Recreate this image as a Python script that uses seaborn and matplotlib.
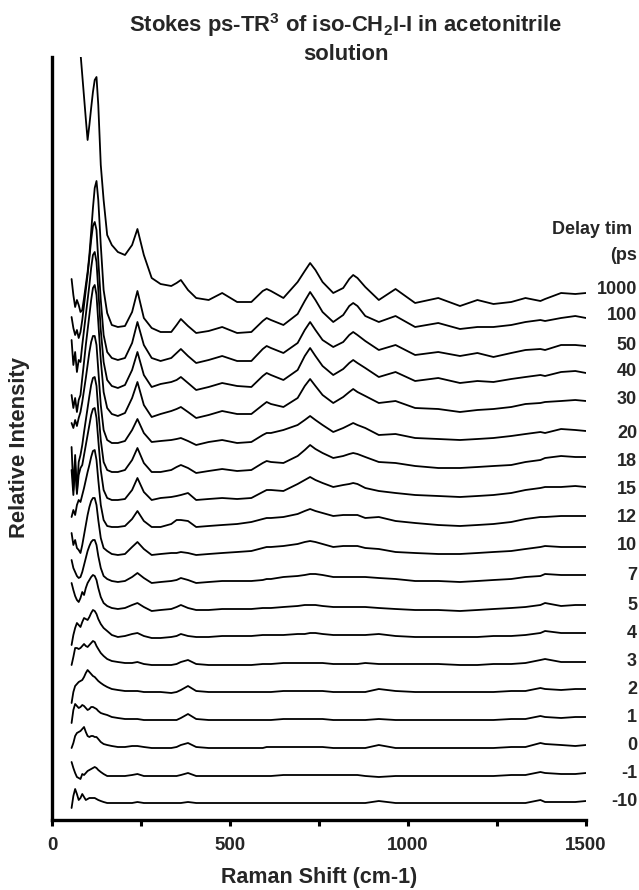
import matplotlib
matplotlib.use('Agg')
import matplotlib.pyplot as plt
import pandas as pd
import seaborn as sns

# Raman shift grid (cm-1) shared by every spectrum
raman_shift = [55, 60, 65, 70, 75, 80, 85, 90, 95, 100, 105, 110, 115, 120, 125, 130,
               137, 145, 155, 168, 185, 205, 225,
               240, 258, 280, 305, 335, 350, 362, 382, 405, 440, 478,
               520, 560, 592, 603, 615, 650, 690, 710, 725, 740, 760, 790, 818, 835, 846, 858,
               880, 918, 965, 1020, 1085, 1146, 1195, 1240, 1290, 1330,
               1372, 1385, 1430, 1470, 1500]

# delay times (ps) and the vertical offset of each stacked trace
delay_labels = ['1000', '100', '50', '40', '30', '20', '18', '15', '12', '10',
                '7', '5', '4', '3', '2', '1', '0', '-1', '-10']
baseline_offsets = [530, 504, 475, 448, 420, 386, 358, 331, 303, 274,
                    244, 214, 186, 158, 130, 102, 74, 46, 18]

# relative intensities, one list per delay
i_1000 = [350, 328, 306, 282, 260, 237, 215, 193, 171, 150, 165, 182, 198, 210, 213, 185,
          125, 90, 55, 45, 38, 35, 45,
          61, 35, 12, 6, 4, 7, 10, 0, -8, -10, -3,
          -12, -12, -1, 1, -1, -8, 8, 19, 27, 20, 8, -3, 2, 11, 15, 12,
          3, -10, 1, -13, -8, -16, -10, -14, -12, -8,
          -11, -9, -3, -4, -3]
i_100 = [37, 21, 9, 16, 11, 4, 6, 18, 31, 44, 61, 84, 108, 128, 135, 116,
         71, 26, 3, -9, -11, -10, 4,
         25, -2, -12, -16, -16, -9, -3, -10, -17, -15, -11,
         -17, -16, -5, -2, -4, -9, 2, 15, 24, 16, 4, -6, 1, 10, 13, 10,
         0, -6, 0, -11, -7, -13, -11, -11, -9, -6,
         -4, -5, -2, 0, -2]
i_50 = [28, 17, 10, 15, 7, 13, 25, 40, 55, 70, 87, 105, 119, 123, 115, 85,
        45, 10, -7, -13, -15, -13, 2,
        23, 0, -13, -16, -13, -8, -4, -11, -18, -15, -11,
        -16, -16, -4, -1, -3, -8, 2, 15, 23, 15, 5, -2, 3, 10, 13, 10,
        4, -5, 0, -10, -7, -11, -8, -12, -8, -5,
        -4, -5, 0, 0, -1]
i_40 = [32, 7, 20, 0, 12, 10, 27, 42, 57, 72, 87, 104, 117, 120, 110, 82,
        42, 10, -8, -14, -16, -13, 2,
        20, -3, -15, -12, -10, -8, -5, -11, -18, -15, -11,
        -14, -15, -4, -1, -3, -8, 2, 16, 24, 16, 6, -3, 3, 9, 12, 9,
        4, -5, 0, -9, -6, -11, -9, -10, -7, -5,
        -3, -4, 0, 1, -1]
i_30 = [5, -8, 2, -12, 0, 5, 22, 38, 55, 70, 85, 100, 112, 115, 105, 78,
        40, 8, -8, -14, -16, -13, 2,
        18, -5, -17, -14, -11, -9, -7, -12, -18, -15, -11,
        -14, -14, -5, -2, -4, -7, 2, 14, 21, 14, 5, -3, 3, 8, 11, 8,
        4, -3, -1, -8, -9, -12, -10, -9, -7, -4,
        -3, -2, -1, 0, -1]
i_20 = [11, 6, 14, 8, 16, 22, 32, 44, 56, 69, 82, 92, 98, 98, 89, 64,
        29, 4, -6, -9, -9, -7, 4,
        15, 1, -8, -7, -6, -5, -4, -7, -11, -8, -6,
        -9, -8, -1, 1, 1, 4, 9, 14, 18, 14, 9, 2, 6, 9, 11, 9,
        6, -1, 0, -4, -5, -6, -5, -4, -2, 0,
        2, 1, 5, 4, 3]
i_18 = [15, -28, 7, -30, 0, 7, 17, 30, 42, 54, 66, 77, 84, 85, 76, 52,
        22, 0, -8, -10, -10, -8, 2,
        14, -1, -10, -10, -8, -5, -3, -6, -11, -9, -7,
        -9, -8, -1, 1, 0, -1, 6, 12, 17, 13, 9, 4, 6, 8, 9, 8,
        5, 0, -1, -4, -6, -6, -5, -4, -3, 0,
        2, 4, 6, 5, 5]
i_15 = [19, -6, 24, -5, 14, 21, 24, 34, 44, 54, 64, 74, 80, 81, 71, 49,
        19, -1, -9, -11, -11, -10, -1,
        11, -3, -11, -9, -8, -7, -6, -4, -11, -10, -9,
        -10, -9, -3, -1, -1, -2, 5, 9, 12, 9, 6, 2, 4, 5, 6, 5,
        1, -2, -4, -6, -7, -8, -7, -6, -4, -1,
        1, 2, 2, 3, 2]
i_12 = [0, 7, 2, 12, 17, 15, 22, 29, 37, 45, 52, 60, 66, 67, 57, 37,
        12, -3, -9, -10, -10, -9, -2,
        6, -4, -10, -10, -7, -3, -3, -4, -10, -9, -8,
        -7, -5, -2, -1, -1, 0, 3, 6, 8, 6, 4, 1, 2, 2, 2, 2,
        -1, 0, -4, -6, -8, -9, -8, -7, -5, -2,
        0, 0, 1, 1, 1]
i_10 = [13, 1, 6, -2, -4, -7, 1, 11, 21, 31, 39, 45, 48, 48, 41, 26,
        8, -2, -5, -8, -9, -8, -1,
        4, -3, -9, -8, -7, -7, -6, -7, -9, -8, -7,
        -6, -5, -2, -1, -1, 0, 2, 4, 5, 4, 2, -1, 0, 0, 0, 0,
        -2, -3, -6, -7, -8, -8, -7, -6, -5, -3,
        -1, 0, -1, -1, -1]
i_7 = [16, 8, 4, 0, -2, -1, 4, 11, 18, 25, 30, 34, 36, 36, 31, 20,
       8, 0, -3, -5, -6, -5, -1,
       3, -2, -7, -6, -5, -4, -2, -4, -7, -6, -5,
       -5, -5, -4, -3, -3, -1, 0, 1, 2, 2, 1, -1, -1, -1, -1, -1,
       -1, -2, -3, -5, -5, -6, -5, -4, -3, -1,
       0, 2, 1, 1, 1]
i_5 = [23, 16, 10, 6, 4, 8, 14, 11, 18, 23, 26, 29, 31, 30, 26, 18,
       9, 3, 0, -2, -3, -2, 1,
       3, -1, -5, -4, -3, -1, 1, -2, -4, -4, -3,
       -3, -3, -2, -2, -2, -1, 0, 1, 1, 1, 0, -1, -1, -1, -1, -1,
       -1, -2, -3, -4, -4, -5, -4, -3, -2, -1,
       1, 3, 0, 1, 1]
i_4 = [-11, -1, 6, 11, 9, 7, 12, 16, 15, 14, 17, 21, 24, 23, 20, 15,
       10, 6, 3, -1, -3, -2, 0,
       1, -2, -4, -4, -3, -2, 0, -2, -3, -3, -2,
       -2, -2, -1, -1, -1, -1, 0, 0, 1, 1, 0, -1, -1, -1, -1, -1,
       -1, 0, -2, -3, -3, -3, -3, -2, -2, -1,
       1, 3, 1, 1, 1]
i_3 = [-3, 5, 14, 14, 13, 14, 16, 18, 16, 15, 17, 19, 21, 20, 16, 13,
       9, 6, 3, 1, 0, -1, -1,
       0, -2, -3, -3, -3, -2, 0, 2, -2, -3, -3,
       -3, -3, -2, -2, -2, -1, -1, -1, -1, -1, -1, -2, -2, -2, -2, -2,
       -1, -2, -2, -2, -2, -3, -3, -2, -2, -1,
       2, 3, 0, 0, 0]
i_2 = [-13, -2, 4, 6, 8, 9, 10, 13, 17, 20, 18, 16, 14, 13, 11, 9,
       7, 5, 3, 1, 0, -1, -1,
       -1, -2, -2, -2, -3, -2, 0, 4, -1, -2, -2,
       -2, -2, -2, -2, -2, -1, -1, -1, -1, -1, -1, -2, -2, -2, -2, -2,
       -2, 1, -1, -2, -2, -2, -2, -2, -1, -1,
       2, 1, 0, 1, 1]
i_1 = [-5, 8, 14, 12, 10, 11, 13, 12, 10, 8, 9, 11, 11, 10, 9, 7,
       5, 4, 3, 1, 0, -1, -1,
       -1, -2, -2, -2, -2, -2, 0, 4, -1, -2, -2,
       -2, -2, -2, -2, -2, -1, -1, -1, -1, -1, -1, -2, -2, -2, -2, -2,
       -2, -1, -2, -2, -2, -2, -2, -2, -1, -1,
       2, 1, 0, 1, 1]
i_0 = [-2, 3, 10, 13, 14, 15, 17, 19, 14, 10, 9, 10, 10, 9, 9, 7,
       4, 2, 1, 0, -1, -1, 0,
       0, -1, -2, -2, -2, -1, 1, 3, -1, -2, -2,
       -2, -2, -2, -1, -1, -1, -1, -1, -1, -1, -1, -2, -2, -2, -2, -2,
       -2, 1, -2, -2, -2, -2, -2, -2, -1, -1,
       3, 2, 1, 0, 1]
i_m1 = [12, 6, 1, -3, -4, -5, 0, -1, 1, 3, 4, 5, 6, 7, 6, 4,
        2, 0, -2, -2, -2, -2, -1,
        0, -2, -2, -2, -2, -2, -1, 1, -2, -2, -2,
        -2, -2, -2, -2, -2, -1, -1, -1, -1, -1, -1, -1, -1, -1, -1, -1,
        -2, -3, -2, -2, -2, -2, -2, -2, -1, -1,
        2, 1, 0, 0, 1]
i_m10 = [-6, 6, 13, 8, 2, 4, 8, 5, 2, 3, 4, 4, 4, 4, 3, 2,
         1, 0, -1, -1, -1, -1, -1,
         0, -1, -1, -1, -1, -1, -1, 0, -1, -1, -1,
         -1, -1, -1, -1, -1, -1, -1, -1, -1, -1, -1, -1, -1, -1, -1, -1,
         -1, 1, -1, -1, -1, -1, -1, -1, -1, -1,
         2, 0, 0, 0, 1]

spectra = [i_1000, i_100, i_50, i_40, i_30, i_20, i_18, i_15, i_12, i_10,
           i_7, i_5, i_4, i_3, i_2, i_1, i_0, i_m1, i_m10]

# long table: one row per point, traces stacked by their offset
rows = []
for label, offset, values in zip(delay_labels, baseline_offsets, spectra):
    assert len(values) == len(raman_shift), label
    for x, v in zip(raman_shift, values):
        rows.append({'shift': x, 'signal': offset + v, 'delay': label})
df = pd.DataFrame(rows)

sns.set_style('white')
plt.rcParams['font.family'] = ['Liberation Sans', 'DejaVu Sans']
plt.rcParams['font.weight'] = 'bold'
plt.rcParams['mathtext.fontset'] = 'custom'
plt.rcParams['mathtext.rm'] = 'Liberation Sans:bold'
plt.rcParams['mathtext.bf'] = 'Liberation Sans:bold'
plt.rcParams['mathtext.default'] = 'bf'

W, H = 639, 890
fig = plt.figure(figsize=(W / 100, H / 100), dpi=100)
ax = fig.add_axes([52 / W, 70 / H, 534 / W, 763 / H])

sns.lineplot(data=df, x='shift', y='signal', units='delay', estimator=None,
             color='black', lw=1.3, sort=False, legend=False, ax=ax)

ax.set_xlim(0, 1500)
ax.set_ylim(0, 763)

for side in ['top', 'right']:
    ax.spines[side].set_visible(False)
for side in ['left', 'bottom']:
    ax.spines[side].set_color('black')
    ax.spines[side].set_linewidth(2.4)

ax.set_yticks([])
ax.set_xticks([0, 500, 1000, 1500])
ax.set_xticks([250, 750, 1250], minor=True)
ax.tick_params(axis='x', which='both', direction='out', length=4, width=2.2,
               color='black', bottom=True)
ax.tick_params(axis='x', which='major', labelsize=13.5, pad=8)
for lab in ax.get_xticklabels():
    lab.set_fontweight('bold')

ax.set_xlabel('Raman Shift (cm-1)', fontsize=15.5, fontweight='bold', va='center')
ax.xaxis.set_label_coords(0.5, -(878 - 820) / 763)
ax.set_ylabel('Relative Intensity', fontsize=15.8, fontweight='bold', va='center')
ax.yaxis.set_label_coords((20 - 52) / 534, (820 - 448) / 763)

# delay labels on the right
x_lab = (637 - 52) / 534
for label, offset in zip(delay_labels, baseline_offsets):
    ax.text(x_lab, offset, label, transform=ax.get_yaxis_transform(),
            ha='right', va='center', fontsize=13, fontweight='bold')
ax.text(x_lab - 0.01, 820 - 230, 'Delay tim', transform=ax.get_yaxis_transform(),
        ha='right', va='center', fontsize=13, fontweight='bold')
ax.text(x_lab, 820 - 255, '(ps', transform=ax.get_yaxis_transform(),
        ha='right', va='center', fontsize=13, fontweight='bold')

fig.text(346 / W, 1 - 25 / H, 'Stokes ps-TR$^3$ of iso-CH$_2$I-I in acetonitrile',
         ha='center', va='center', fontsize=15.8, fontweight='bold')
fig.text(346 / W, 1 - 55 / H, 'solution',
         ha='center', va='center', fontsize=15.8, fontweight='bold')

fig.savefig('out.png', dpi=100)
